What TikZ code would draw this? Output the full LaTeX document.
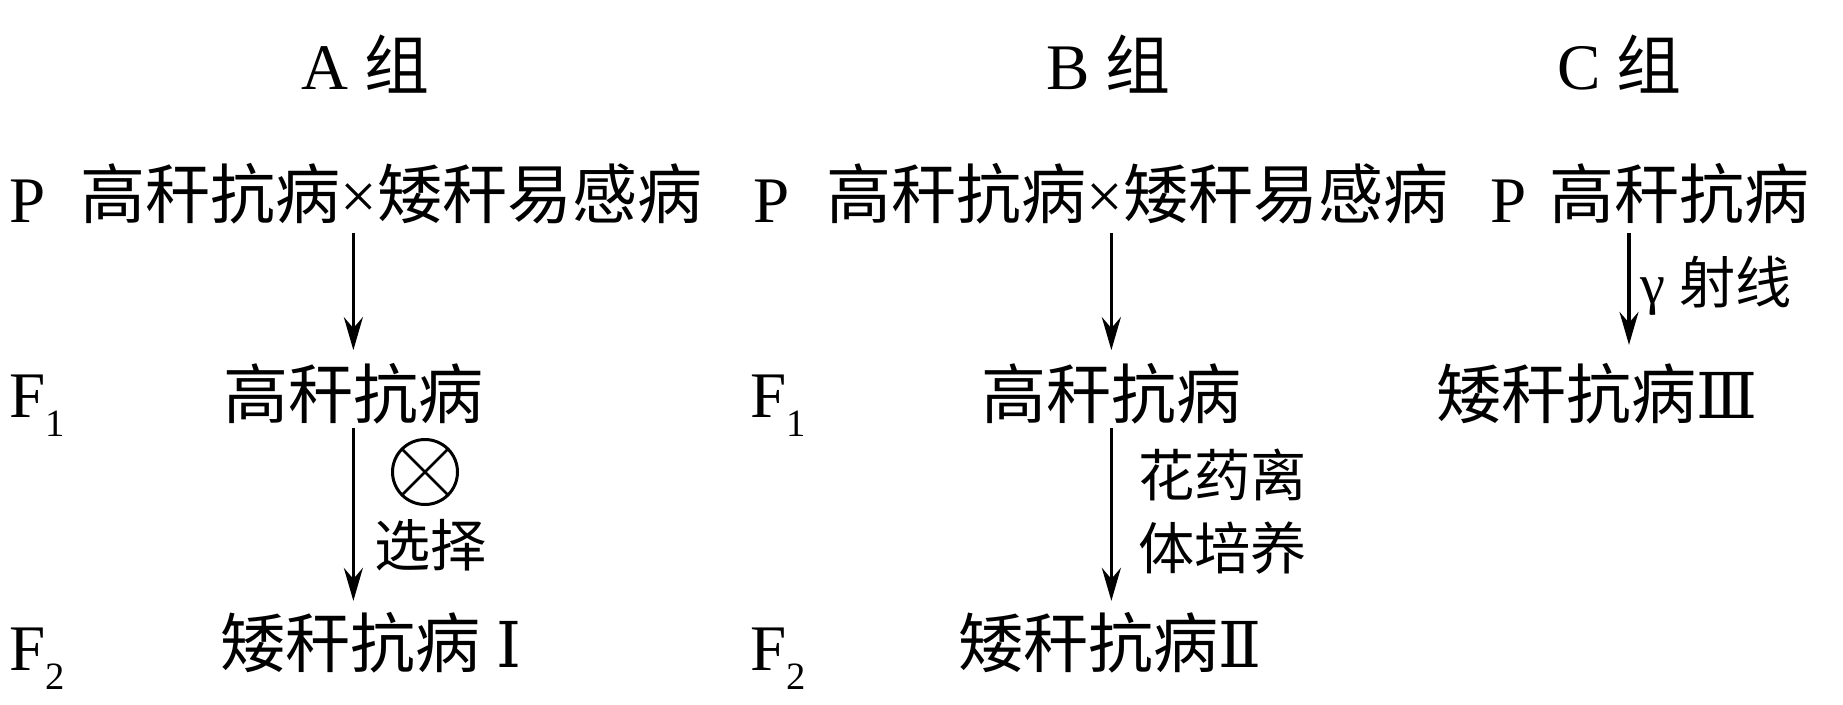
\documentclass[tikz,border=0pt]{standalone}
\usepackage{fontspec}
\setmainfont{Liberation Serif}
\newfontfamily\cjk{Noto Sans CJK SC}
\newfontfamily\romf{DejaVu Serif}
\usetikzlibrary{arrows.meta,calc}
\newcommand{\zh}[1]{{\cjk #1}}
\newcommand{\rn}[1]{{\romf\fontsize{36}{42}\selectfont #1}}
\newcommand{\sbs}[1]{\raisebox{-0.3em}{\fontsize{22}{22}\selectfont #1}}
\begin{document}
\begin{tikzpicture}[x=0.02cm,y=-0.02cm,
  txt/.style={anchor=base west, inner sep=0pt, font=\fontsize{37}{44}\selectfont},
  lbl/.style={anchor=base west, inner sep=0pt, font=\fontsize{32}{38}\selectfont},
  arr/.style={line width=0.072cm, -{Stealth[length=0.66cm,width=0.38cm,inset=0.22cm]}},
  selfing/.style={draw, circle, line width=0.06cm, minimum size=1.3cm, inner sep=0pt,
    path picture={\draw[line width=0.055cm] (path picture bounding box.north west) -- (path picture bounding box.south east)
      (path picture bounding box.north east) -- (path picture bounding box.south west);}},
]
\useasboundingbox[fill=white] (0,0) rectangle (1843,704);
% group titles
\node[txt] (gA) at (301,89) {A \zh{组}};
\node[txt] (gB) at (1046,89) {B \zh{组}};
\node[txt] (gC) at (1557,89) {C \zh{组}};
% P row
\node[txt] (pAl) at (9,222) {P};
\node[txt] (pA) at (80,218) {\zh{高秆抗病}×\zh{矮秆易感病}};
\node[txt] (pBl) at (753,222) {P};
\node[txt] (pB) at (826,218) {\zh{高秆抗病}×\zh{矮秆易感病}};
\node[txt] (pCl) at (1490,222) {P};
\node[txt] (pC) at (1549,218) {\zh{高秆抗病}};
% F1 row
\node[txt] (f1Al) at (9,417) {F\sbs{1}};
\node[txt] (f1A) at (223,418) {\zh{高秆抗病}};
\node[txt] (f1Bl) at (750,417) {F\sbs{1}};
\node[txt] (f1B) at (981,418) {\zh{高秆抗病}};
\node[txt] (f1C) at (1436,418) {\zh{矮秆抗病}\rn{Ⅲ}};
% F2 row
\node[txt] (f2Al) at (9,670) {F\sbs{2}};
\node[txt] (f2A) at (220,667) {\zh{矮秆抗病}\hspace{0.25em}\rn{Ⅰ}};
\node[txt] (f2Bl) at (750,670) {F\sbs{2}};
\node[txt] (f2B) at (958,667) {\zh{矮秆抗病}\rn{Ⅱ}};
% arrow labels
\node[selfing] (self) at (425,472) {};
\node[lbl] (sel) at (374,566) {\zh{选择}};
\node[lbl] (hy1) at (1138,496) {\zh{花药离}};
\node[lbl] (hy2) at (1138,569) {\zh{体培养}};
\node[lbl] (gam) at (1640,303) {γ \zh{射线}};
% arrows
\coordinate (cTop) at ($(pC.south west)+(80,0)$);
\draw[arr, shorten <=5pt, shorten >=7pt] (pA.south -| f1A.north) -- (f1A.north);
\draw[arr, shorten <=5pt, shorten >=7pt] (pB.south -| f1B.north) -- (f1B.north);
\draw[arr, shorten <=5pt, shorten >=10pt] (cTop) -- (cTop |- f1C.north);
\draw[arr, shorten <=2pt, shorten >=6pt] (f1A.south) -- (f2A.north -| f1A.south);
\draw[arr, shorten <=2pt, shorten >=6pt] (f1B.south) -- (f2B.north -| f1B.south);
\end{tikzpicture}
\end{document}
